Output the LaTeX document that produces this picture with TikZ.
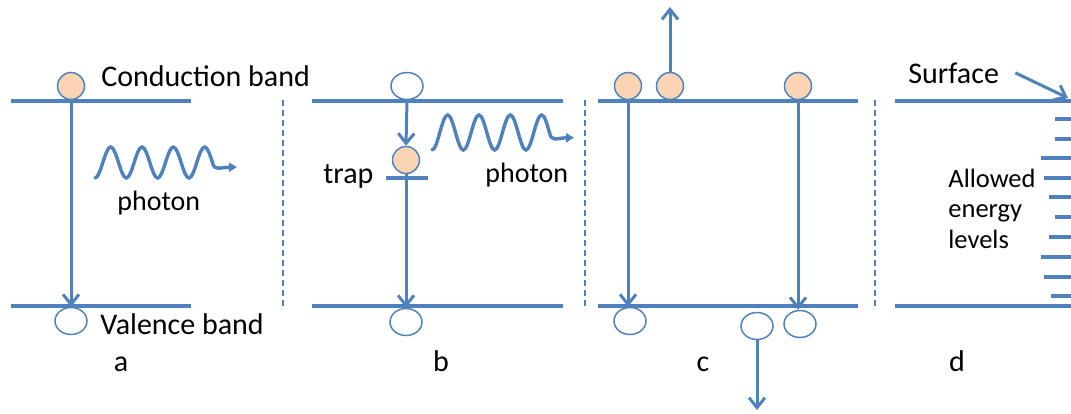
\documentclass[tikz,border=0pt]{standalone}
\usepackage{fontspec}
\setmainfont{Carlito}
\usepackage{tikz}
\usetikzlibrary{arrows.meta,shapes.geometric}
\definecolor{bandblue}{RGB}{79,129,189}
\definecolor{peach}{RGB}{251,212,180}

\tikzset{
  band/.style={line width=2pt, bandblue},
  jump/.style={line width=1.5pt, bandblue, -{Straight Barb[length=5pt,width=8pt]}},
  sep/.style={line width=1pt, bandblue, dash pattern=on 3pt off 2pt},
  wave/.style={line width=1.7pt, bandblue, line cap=round, -{Triangle[length=4pt,width=4.5pt]}},
  elec/.style={circle, draw=bandblue, line width=0.75pt, fill=peach, minimum size=13.5pt, inner sep=0pt},
  hole/.style={ellipse, draw=bandblue, line width=0.75pt, fill=white, minimum width=16pt, minimum height=13.5pt, inner sep=0pt},
  lbl/.style={inner sep=0pt, anchor=base west, font=\fontsize{15}{15.25}\selectfont},
  small/.style={font=\fontsize{14}{15.25}\selectfont},
  note/.style={font=\fontsize{13.25}{15.25}\selectfont},
  tag/.style={inner sep=0pt, anchor=base, font=\fontsize{15}{15.25}\selectfont},
  photon/.pic={
    \draw[wave] (0,0)
      \foreach \k in {1,2,3} {
        cos ++(7.83,-15.5) sin ++(7.83,-15.5) cos ++(7.83,15.5) sin ++(7.83,15.5)
      }
      cos (101.79,-15.5) sin (109.62,-31) cos (117.45,-15.5)
      .. controls (119.5,-7) and (124,-10.5) .. (142,-11);
  }
}

\begin{document}
\begin{tikzpicture}[x=0.5pt, y=-0.5pt]
  \useasboundingbox (0,0) rectangle (1071,413);

  % Bands
  \draw[band] (11,101) -- (191,101);
  \draw[band] (11,306) -- (191,306);
  \draw[band] (312,101) -- (563,101);
  \draw[band] (312,306) -- (563,306);
  \draw[band] (598,101) -- (858,101);
  \draw[band] (598,306) -- (858,306);
  \draw[band] (895,101) -- (1071,101);
  \draw[band] (895,306) -- (1071,306);

  % Separators
  \draw[sep] (283,100) -- (283,306);
  \draw[sep] (585,100) -- (585,306);
  \draw[sep] (875,100) -- (875,306);

  % a: direct recombination
  \node[elec] (ea) at (71,86) {};
  \node[hole] (ha) at (71,321) {};
  \draw[jump] (ea.south) -- (ha.north);
  \pic at (95,178) {photon};
  \node[lbl] (cband) at (101,86) {Conduction band};
  \node[lbl] (vband) at (100,334) {Valence band};
  \node[lbl, small] (pha) at (117,210) {photon};
  \node[tag] (laba) at (121,371) {a};

  % b: recombination through a trap
  \draw[band] (386,178) -- (428,178);
  \node[hole] (hbt) at (407,86) {};
  \node[elec] (tb) at (406,160) {};
  \node[hole] (hb) at (406,322) {};
  \draw[jump] (hbt.south) -- (tb.north);
  \draw[jump] (tb.south) -- (hb.north);
  \pic[yscale=1.13] at (432,150) {photon};
  \node[lbl] (trap) at (323,183) {trap};
  \node[lbl, small] (phb) at (485,182) {photon};
  \node[tag] (labb) at (441,371) {b};

  % c: Auger
  \node[elec] (ec1) at (628,86) {};
  \node[elec] (ec2) at (670,86) {};
  \node[elec] (ec3) at (798,86) {};
  \node[hole] (hc1) at (630,321) {};
  \node[hole] (hc2) at (757,326) {};
  \node[hole] (hc3) at (800,324) {};
  \coordinate (outc) at (670,7);
  \coordinate (inc) at (757,410);
  \draw[jump] (ec1.south) -- (ec1.south |- hc1.north);
  \draw[jump] (ec3.south) -- (ec3.south |- hc3.north);
  \draw[jump] (ec2.north) -- (outc);
  \draw[jump] (hc2.south) -- (inc);
  \node[tag] (labc) at (703,371) {c};

  % d: surface states
  \foreach \y/\x in {119/1055, 139/1055, 158/1041, 178/1044, 197/1049,
                     217/1055, 237/1049, 257/1041, 277/1044, 296/1051}
    \draw[band] (\x,\y) -- (1071,\y);
  \node[lbl] (surf) at (908,83) {Surface};
  \coordinate (surftip) at (1068,98);
  \draw[jump] ([xshift=8pt]surf.east) -- (surftip);
  \node[lbl, note, align=left] (levels) at (948,248) {Allowed\\energy\\levels};
  \node[tag] (labd) at (957,371) {d};
\end{tikzpicture}
\end{document}
